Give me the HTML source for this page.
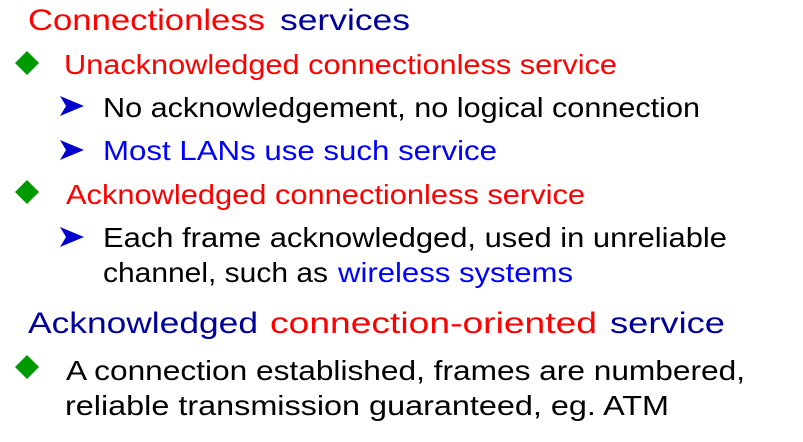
<!DOCTYPE html>
<html>
<head>
<meta charset="utf-8">
<style>
  html,body{margin:0;padding:0;background:#fff;}
  svg{display:block;}
  text{font-family:"Liberation Sans",sans-serif;}
</style>
</head>
<body>
<svg width="803" height="442" viewBox="0 0 803 442">
  <text x="28" y="30" font-size="30" fill="#ff0000" textLength="237" lengthAdjust="spacingAndGlyphs">Connectionless</text>
  <text x="280" y="30" font-size="30" fill="#000099" textLength="130" lengthAdjust="spacingAndGlyphs">services</text>

  <polygon points="27,51 39,63 27,75 15,63" fill="#009900"/>
  <text x="64" y="74" font-size="28" fill="#ff0000" textLength="553" lengthAdjust="spacingAndGlyphs">Unacknowledged connectionless service</text>

  <polygon points="60,96 84,106 60,116 66,106" fill="#0000cc"/>
  <text x="103" y="117" font-size="28" fill="#000000" textLength="597" lengthAdjust="spacingAndGlyphs">No acknowledgement, no logical connection</text>

  <polygon points="60,140 84,150 60,160 66,150" fill="#0000cc"/>
  <text x="103" y="160" font-size="28" fill="#0000ff" textLength="394" lengthAdjust="spacingAndGlyphs">Most LANs use such service</text>

  <polygon points="27,180 39,192 27,204 15,192" fill="#009900"/>
  <text x="66" y="204" font-size="28" fill="#ff0000" textLength="519" lengthAdjust="spacingAndGlyphs">Acknowledged connectionless service</text>

  <polygon points="60,227 84,237 60,247 66,237" fill="#0000cc"/>
  <text x="103" y="247" font-size="28" fill="#000000" textLength="624" lengthAdjust="spacingAndGlyphs">Each frame acknowledged, used in unreliable</text>
  <text x="103" y="282" font-size="28" fill="#000000" textLength="225" lengthAdjust="spacingAndGlyphs">channel, such as</text>
  <text x="338" y="282" font-size="28" fill="#0000ff" textLength="235" lengthAdjust="spacingAndGlyphs">wireless systems</text>

  <text x="28" y="333" font-size="30" fill="#000099" textLength="230" lengthAdjust="spacingAndGlyphs">Acknowledged</text>
  <text x="270" y="333" font-size="30" fill="#ff0000" textLength="327" lengthAdjust="spacingAndGlyphs">connection-oriented</text>
  <text x="610" y="333" font-size="30" fill="#000099" textLength="115" lengthAdjust="spacingAndGlyphs">service</text>

  <polygon points="27,355 39,367 27,379 15,367" fill="#009900"/>
  <text x="66" y="380" font-size="28" fill="#000000" textLength="679" lengthAdjust="spacingAndGlyphs">A connection established, frames are numbered,</text>
  <text x="65" y="415" font-size="28" fill="#000000" textLength="604" lengthAdjust="spacingAndGlyphs">reliable transmission guaranteed,  eg. ATM</text>
</svg>
</body>
</html>
